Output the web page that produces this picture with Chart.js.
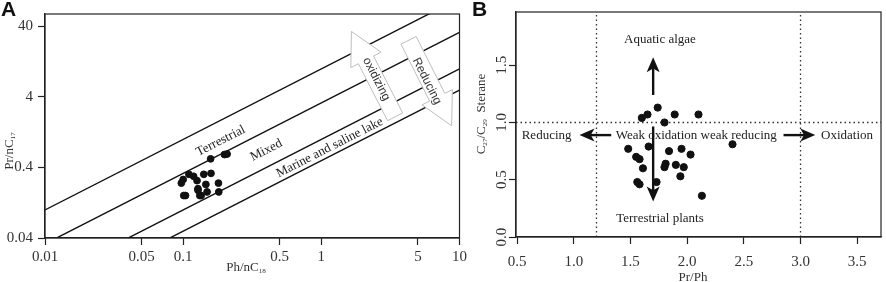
<!DOCTYPE html>
<html>
<head>
<meta charset="utf-8">
<script src="https://cdn.jsdelivr.net/npm/chart.js@4.4.1/dist/chart.umd.min.js"></script>
<style>
  body { margin: 0; background: #fff; }
  #wrap { position: relative; width: 886px; height: 282px; overflow: hidden; }
  #chartA { position: absolute; left: 0; top: 0; }
  #chartB { position: absolute; left: 470px; top: 0; }
  .panel { position: absolute; top: -2px; font: bold 21px "Liberation Sans", Arial, sans-serif; line-height: 21px; color: #111; }
</style>
</head>
<body>
<div id="wrap">
  <canvas id="chartA" width="470" height="282"></canvas>
  <canvas id="chartB" width="416" height="282"></canvas>
  <div class="panel" style="left:1px">A</div>
  <div class="panel" style="left:472px">B</div>
</div>
<script>
// Panel A: Pr/nC17 vs Ph/nC18 (log-log)
const phNC18 = [0.158, 0.199, 0.208, 0.110, 0.119, 0.126, 0.141, 0.159, 0.097, 0.100,
                0.146, 0.180, 0.128, 0.128, 0.149, 0.181, 0.101, 0.104, 0.132, 0.135];
const prNC17 = [0.53, 0.61, 0.62, 0.32, 0.30, 0.26, 0.32, 0.33, 0.24, 0.27,
                0.23, 0.24, 0.20, 0.19, 0.18, 0.18, 0.16, 0.16, 0.16, 0.16];
// boundary lines Pr/nC17 = k * Ph/nC18
const envRatios = [10, 3.3, 1, 0.5];
const ticksPhA = [0.01, 0.05, 0.1, 0.5, 1, 5, 10];
const ticksPrA = [0.04, 0.4, 4, 40];

// Panel B: C27/C29 sterane vs Pr/Ph
const prPh = [1.74, 1.65, 1.60, 1.80, 1.89, 2.10, 1.48, 1.66, 1.84, 1.95, 2.03, 2.40,
              1.55, 1.58, 1.61, 1.81, 1.80, 1.90, 1.97, 1.94, 1.56, 1.58, 1.73, 2.13];
const c27c29 = [1.13, 1.07, 1.04, 1.00, 1.07, 1.07, 0.77, 0.79, 0.75, 0.77, 0.72, 0.81,
                0.70, 0.68, 0.60, 0.64, 0.61, 0.63, 0.61, 0.53, 0.48, 0.46, 0.48, 0.36];
const prPhLimits = [1.2, 3.0];
const steraneLimit = 1.0;
const ticksPrPh = [0.5, 1.0, 1.5, 2.0, 2.5, 3.0, 3.5];
const ticksSterane = [0.0, 0.5, 1.0, 1.5];

const serif = '"Liberation Serif", "Times New Roman", serif';
const sans = '"Liberation Sans", Arial, sans-serif';
Chart.defaults.font.family = serif;
Chart.defaults.color = '#333';

// text with subscripts, centred on (x, y)
const richText = (ctx, parts, x, y, size, rot) => {
    ctx.save();
    ctx.translate(x, y);
    if (rot) ctx.rotate(rot);
    ctx.textBaseline = 'alphabetic';
    ctx.textAlign = 'left';
    let total = 0;
    parts.forEach(([t, sub]) => {
        ctx.font = (sub ? size * 0.55 : size) + 'px ' + serif;
        total += ctx.measureText(t).width;
    });
    let cx = -total / 2;
    parts.forEach(([t, sub]) => {
        ctx.font = (sub ? size * 0.55 : size) + 'px ' + serif;
        ctx.fillText(t, cx, sub ? size * 0.5 : size * 0.35);
        cx += ctx.measureText(t).width;
    });
    ctx.restore();
};

const boxPlugin = {
    id: 'box',
    afterDraw(chart) {
        const {ctx, chartArea: a} = chart;
        ctx.save();
        ctx.strokeStyle = '#222';
        ctx.lineWidth = 1.2;
        ctx.strokeRect(a.left, a.top, a.right - a.left, a.bottom - a.top);
        ctx.restore();
    }
};

// ---- panel A decorations
const lineLabels = [
    {text: 'Terrestrial', x: 0.187, y: 0.95},
    {text: 'Mixed', x: 0.40, y: 0.70},
    {text: 'Marine and saline lake', x: 1.15, y: 0.765},
];
const bigArrows = [
    {text: 'oxidizing', tail: [3.42, 2.09], tip: [1.65, 34], label: [2.50, 7.17]},
    {text: 'Reducing', tail: [4.28, 25.4], tip: [8.77, 1.56], label: [5.80, 6.72]},
];

const decorA = {
    id: 'decorA',
    afterDatasetsDraw(chart) {
        const {ctx, scales: {x, y}} = chart;
        const angle = -Math.atan2(y.getPixelForValue(0.04) - y.getPixelForValue(0.4),
                                  x.getPixelForValue(1) - x.getPixelForValue(0.1));
        ctx.save();
        ctx.fillStyle = '#222';
        ctx.font = '13px ' + serif;
        ctx.textAlign = 'center';
        ctx.textBaseline = 'middle';
        lineLabels.forEach(l => {
            ctx.save();
            ctx.translate(x.getPixelForValue(l.x), y.getPixelForValue(l.y));
            ctx.rotate(angle);
            ctx.fillText(l.text, 0, 0);
            ctx.restore();
        });
        bigArrows.forEach(a => {
            const tx = x.getPixelForValue(a.tail[0]), ty = y.getPixelForValue(a.tail[1]);
            const px = x.getPixelForValue(a.tip[0]), py = y.getPixelForValue(a.tip[1]);
            const len = Math.hypot(px - tx, py - ty);
            const ux = (px - tx) / len, uy = (py - ty) / len;
            const nx = -uy, ny = ux;
            const w = 8.5, hw = 17, hl = 32;
            const bx = px - ux * hl, by = py - uy * hl;
            ctx.beginPath();
            ctx.moveTo(tx + nx * w, ty + ny * w);
            ctx.lineTo(bx + nx * w, by + ny * w);
            ctx.lineTo(bx + nx * hw, by + ny * hw);
            ctx.lineTo(px, py);
            ctx.lineTo(bx - nx * hw, by - ny * hw);
            ctx.lineTo(bx - nx * w, by - ny * w);
            ctx.lineTo(tx - nx * w, ty - ny * w);
            ctx.closePath();
            ctx.fillStyle = '#fff';
            ctx.fill();
            ctx.strokeStyle = '#bdbdbd';
            ctx.lineWidth = 1;
            ctx.stroke();
            // text reads downwards along the arrow
            const down = uy > 0 ? Math.atan2(uy, ux) : Math.atan2(-uy, -ux);
            ctx.save();
            ctx.translate(x.getPixelForValue(a.label[0]), y.getPixelForValue(a.label[1]));
            ctx.rotate(down);
            ctx.font = '12px ' + sans;
            ctx.fillStyle = '#333';
            ctx.fillText(a.text, 0, 0);
            ctx.restore();
        });
        ctx.restore();
    },
    afterDraw(chart) {
        const {ctx} = chart;
        ctx.save();
        ctx.fillStyle = '#333';
        richText(ctx, [['Pr/nC', false], ['17', true]], 8, 151, 13, -Math.PI / 2);
        richText(ctx, [['Ph/nC', false], ['18', true]], 246, 266, 13, 0);
        ctx.restore();
    }
};

const axisStyle = {
    grid: {drawOnChartArea: false, tickLength: 7, color: '#222', tickWidth: 1.2},
    border: {color: '#222', width: 1.2},
};

new Chart(document.getElementById('chartA'), {
    type: 'scatter',
    data: {
        datasets: [
            {
                data: phNC18.map((v, i) => ({x: v, y: prNC17[i]})),
                backgroundColor: '#111',
                borderColor: '#111',
                pointRadius: 3.4,
                order: 0,
            },
            ...envRatios.map(k => ({
                data: [ticksPhA[0], ticksPhA[ticksPhA.length - 1]].map(v => ({x: v, y: k * v})),
                showLine: true,
                borderColor: '#111',
                borderWidth: 1.4,
                pointRadius: 0,
                order: 1,
            })),
        ],
    },
    options: {
        responsive: false,
        animation: false,
        devicePixelRatio: 1,
        layout: {padding: {top: 13, right: 7, left: 0, bottom: 0}},
        plugins: {legend: {display: false}, tooltip: {enabled: false}},
        scales: {
            x: {
                type: 'logarithmic', min: 0.01, max: 10,
                afterBuildTicks: s => { s.ticks = ticksPhA.map(v => ({value: v})); },
                afterFit: s => { s.height = 44; },
                ticks: {callback: v => String(v), autoSkip: false, maxRotation: 0, padding: 3, font: {size: 15}},
                ...axisStyle,
            },
            y: {
                type: 'logarithmic', min: 0.04, max: 60,
                afterBuildTicks: s => { s.ticks = ticksPrA.map(v => ({value: v})); },
                afterFit: s => { s.width = 45; },
                ticks: {callback: v => String(v), autoSkip: false, padding: 5, font: {size: 15}},
                ...axisStyle,
            },
        },
    },
    plugins: [boxPlugin, decorA],
});

// ---- panel B decorations
const textsB = [
    {text: 'Aquatic algae', x: 1.76, y: 1.72},
    {text: 'Reducing', x: 0.76, y: 0.89},
    {text: 'Weak oxidation weak reducing', x: 2.08, y: 0.89},
    {text: 'Oxidation', x: 3.41, y: 0.89},
    {text: 'Terrestrial plants', x: 1.76, y: 0.16},
];
const arrowsB = [
    [1.7, 1.24, 1.7, 1.57],
    [1.7, 0.965, 1.7, 0.31],
    [1.33, 0.89, 1.05, 0.89],
    [2.85, 0.89, 3.13, 0.89],
];

const decorB = {
    id: 'decorB',
    afterDatasetsDraw(chart) {
        const {ctx, scales: {x, y}} = chart;
        ctx.save();
        ctx.fillStyle = '#222';
        ctx.font = '13px ' + serif;
        ctx.textAlign = 'center';
        ctx.textBaseline = 'middle';
        textsB.forEach(t => ctx.fillText(t.text, x.getPixelForValue(t.x), y.getPixelForValue(t.y)));
        ctx.fillStyle = '#111';
        ctx.strokeStyle = '#111';
        ctx.lineWidth = 2.4;
        arrowsB.forEach(([x1, y1, x2, y2]) => {
            const sx = x.getPixelForValue(x1), sy = y.getPixelForValue(y1);
            const ex = x.getPixelForValue(x2), ey = y.getPixelForValue(y2);
            const len = Math.hypot(ex - sx, ey - sy);
            const ux = (ex - sx) / len, uy = (ey - sy) / len;
            const nx = -uy, ny = ux;
            const hl = 15, hw = 6.5;
            ctx.beginPath();
            ctx.moveTo(sx, sy);
            ctx.lineTo(ex - ux * hl * 0.7, ey - uy * hl * 0.7);
            ctx.stroke();
            ctx.beginPath();
            ctx.moveTo(ex, ey);
            ctx.lineTo(ex - ux * hl + nx * hw, ey - uy * hl + ny * hw);
            ctx.lineTo(ex - ux * hl * 0.75, ey - uy * hl * 0.75);
            ctx.lineTo(ex - ux * hl - nx * hw, ey - uy * hl - ny * hw);
            ctx.closePath();
            ctx.fill();
        });
        ctx.restore();
    },
    afterDraw(chart) {
        const {ctx, scales: {y}} = chart;
        ctx.save();
        ctx.fillStyle = '#333';
        ctx.font = '15px ' + serif;
        ctx.textAlign = 'center';
        ctx.textBaseline = 'middle';
        y.ticks.forEach((t, i) => {
            ctx.save();
            ctx.translate(32, y.getPixelForValue(t.value));
            ctx.rotate(-Math.PI / 2);
            ctx.fillText(ticksSterane[i].toFixed(1), 0, 0);
            ctx.restore();
        });
        richText(ctx, [['C', false], ['27', true], ['/C', false], ['29', true], ['  Sterane', false]],
                 10, 114, 13, -Math.PI / 2);
        richText(ctx, [['Pr/Ph', false]], 223, 276, 13, 0);
        ctx.restore();
    }
};

const yMaxB = 1.965, xMinB = 0.49, xMaxB = 3.71;
const dotted = {showLine: true, borderColor: '#333', borderWidth: 1.3, borderDash: [1.5, 3], pointRadius: 0, order: 1};

new Chart(document.getElementById('chartB'), {
    type: 'scatter',
    data: {
        datasets: [
            {
                data: prPh.map((v, i) => ({x: v, y: c27c29[i]})),
                backgroundColor: '#111',
                borderColor: '#111',
                pointRadius: 3.6,
                order: 0,
            },
            ...prPhLimits.map(v => ({...dotted, data: [{x: v, y: 0}, {x: v, y: yMaxB}]})),
            {...dotted, data: [{x: xMinB, y: steraneLimit}, {x: xMaxB, y: steraneLimit}]},
        ],
    },
    options: {
        responsive: false,
        animation: false,
        devicePixelRatio: 1,
        layout: {padding: {top: 12, right: 1, left: 0, bottom: 0}},
        plugins: {legend: {display: false}, tooltip: {enabled: false}},
        scales: {
            x: {
                type: 'linear', min: xMinB, max: xMaxB,
                afterBuildTicks: s => { s.ticks = ticksPrPh.map(v => ({value: v})); },
                afterFit: s => { s.height = 45; },
                ticks: {callback: v => v.toFixed(1), autoSkip: false, maxRotation: 0, padding: 9, font: {size: 15}},
                ...axisStyle,
            },
            y: {
                type: 'linear', min: 0, max: yMaxB,
                afterBuildTicks: s => { s.ticks = ticksSterane.map(v => ({value: v})); },
                afterFit: s => { s.width = 46; },
                ticks: {color: 'rgba(0,0,0,0)', autoSkip: false, font: {size: 15}},
                ...axisStyle,
            },
        },
    },
    plugins: [boxPlugin, decorB],
});
</script>
</body>
</html>
